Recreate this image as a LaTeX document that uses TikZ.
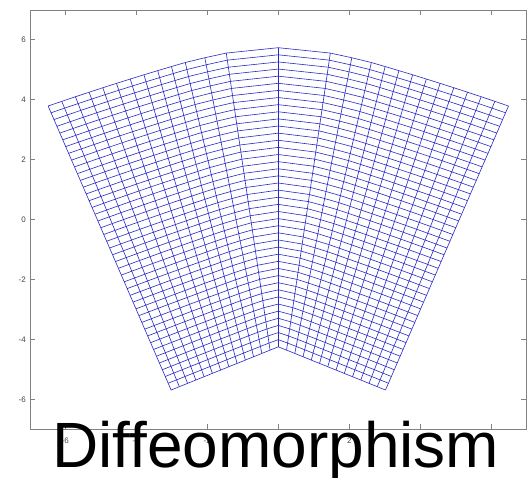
\documentclass[tikz,border=0pt]{standalone}
\usepackage{fontspec}
\setmainfont{Liberation Sans}
\definecolor{meshblue}{RGB}{40,40,200}
\definecolor{axgray}{RGB}{130,130,130}
\definecolor{labgray}{RGB}{70,70,70}
\pgfmathdeclarefunction{thk}{1}{%
  \pgfmathparse{((#1)<10.5) ? (20.1-0.9*(#1)) : (((#1)<11.5) ? 9.25 : (((#1)<12.5) ? 7.1 : 0))}%
}
\pgfmathdeclarefunction{gx}{2}{%
  \pgfmathparse{3.02*(#1)/13 + (((#1)<0) ? -1 : 1)*(#2)*(9.97+0.11*abs(#1)/13)*sin(thk(13-abs(#1)))}%
}
\pgfmathdeclarefunction{gy}{2}{%
  \pgfmathparse{-4.25 - 1.44*abs(#1)/13 + (#2)*(9.97+0.11*abs(#1)/13)*cos(thk(13-abs(#1)))}%
}
\begin{document}
\begin{tikzpicture}[x=1pt,y=-1pt,
  axis/.style={draw=axgray, line width=0.8pt},
  tickmark/.style={draw=axgray, line width=0.6pt},
  ticklab/.style={text=labgray, font=\fontsize{8}{8}\selectfont, inner sep=0pt},
  mesh/.style={draw=meshblue, line width=0.6pt, line join=round}]
\useasboundingbox (0,0) rectangle (529,478);
\fill[white] (0,0) rectangle (529,478);
\draw[axis] (30,10) rectangle (526,429);
\foreach \v [count=\n] in {6,4,2,0,-2,-4,-6} {
  \pgfmathsetmacro{\py}{219.3-30*\v}
  \draw[tickmark] (30,\py) -- (35,\py);
  \draw[tickmark] (526,\py) -- (521,\py);
  \node[ticklab, anchor=east] (yl\n) at (26,\py) {\v};
}
\foreach \v [count=\n] in {-6,-4,-2,0,2,4,6} {
  \pgfmathsetmacro{\px}{278.3+35.5*\v}
  \draw[tickmark] (\px,10) -- (\px,15);
  \draw[tickmark] (\px,429) -- (\px,424);
  \node[ticklab] (xl\n) at (\px,441) {\v};
}
\begin{scope}[shift={(278.3,219.3)}, x=35.5pt, y=30pt]
  \foreach \i in {-13,...,13} {
    \draw[mesh] ({gx(\i,0)},{gy(\i,0)}) -- ({gx(\i,1)},{gy(\i,1)});
  }
  \foreach \j in {0,...,42} {
    \draw[mesh] plot[variable=\q, samples at={-13,...,13}] ({gx(\q,\j/42)},{gy(\q,\j/42)});
  }
\end{scope}
\node[anchor=base west, inner sep=0pt, font=\fontsize{64}{64}\selectfont] (title) at (52,467) {Diffeomorphism};
\end{tikzpicture}
\end{document}
